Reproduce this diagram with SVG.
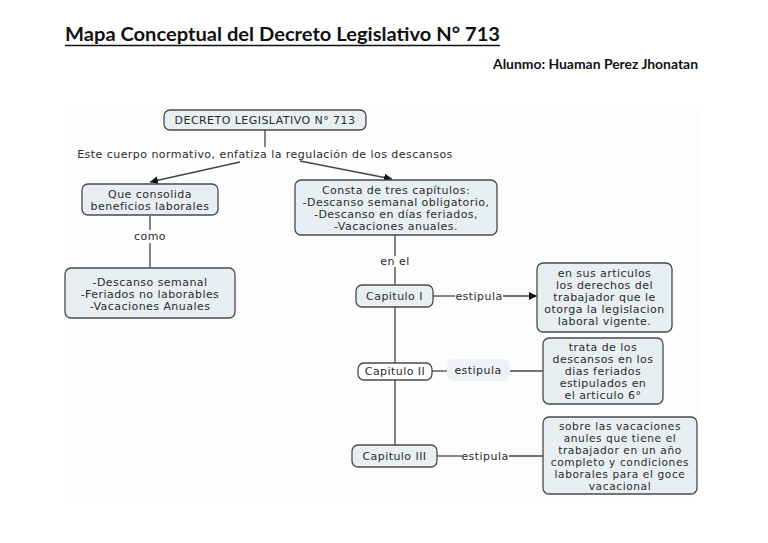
<svg xmlns="http://www.w3.org/2000/svg" width="768" height="543" viewBox="0 0 768 543">
<defs>
<style>
.t{font-family:'DejaVu Sans',Verdana,sans-serif;font-size:11px;letter-spacing:0.45px;fill:#2b2b2b;text-anchor:middle}
.s{font-size:10.6px;letter-spacing:0.6px}
.box{fill:#e8eff2;stroke:#4a4a4a;stroke-width:1.3}
.wbox{fill:#ffffff;stroke:#4a4a4a;stroke-width:1.3}
.ln{stroke:#444;stroke-width:1.3;fill:none}
.hd{font-family:Lato,'Liberation Sans',sans-serif;font-weight:bold;fill:#111}
</style>
<marker id="ah" viewBox="0 0 10 10" refX="10" refY="5" markerWidth="8" markerHeight="8" markerUnits="userSpaceOnUse" orient="auto">
<path d="M0,0 L10,5 L0,10 z" fill="#111"/>
</marker>
</defs>
<rect width="768" height="543" fill="#ffffff"/>
<rect x="65" y="107" width="635" height="390" fill="#fdfdfd"/>
<g id="title">
<text class="hd" x="65" y="41" font-size="18" textLength="435" lengthAdjust="spacingAndGlyphs">Mapa Conceptual del Decreto Legislativo N° 713</text>
<line x1="65" y1="45.5" x2="500" y2="45.5" stroke="#111" stroke-width="1.3"/>
<text class="hd" x="493" y="69" font-size="12.5" textLength="205" lengthAdjust="spacingAndGlyphs">Alunmo: Huaman Perez Jhonatan</text>
</g>
<g id="connectors">
<line class="ln" x1="265" y1="130" x2="265" y2="147"/>
<line class="ln" x1="240" y1="162" x2="150" y2="182" marker-end="url(#ah)"/>
<line class="ln" x1="300" y1="161" x2="392" y2="179" marker-end="url(#ah)"/>
<line class="ln" x1="150" y1="216" x2="150" y2="230"/>
<line class="ln" x1="150" y1="243" x2="150" y2="268"/>
<line class="ln" x1="395" y1="235" x2="395" y2="256"/>
<line class="ln" x1="395" y1="267" x2="395" y2="284"/>
<line class="ln" x1="433" y1="296" x2="455" y2="296"/>
<line class="ln" x1="503" y1="296" x2="537" y2="296" marker-end="url(#ah)"/>
<line class="ln" x1="395" y1="307" x2="395" y2="363"/>
<line class="ln" x1="432" y1="371" x2="447" y2="371"/>
<line class="ln" x1="510" y1="371" x2="543" y2="371"/>
<line class="ln" x1="395" y1="380" x2="395" y2="445"/>
<line class="ln" x1="437" y1="456" x2="462" y2="456"/>
<line class="ln" x1="509" y1="456" x2="543" y2="456"/>
<text class="t" x="265" y="158">Este cuerpo normativo, enfatiza la regulación de los descansos</text>
<text class="t" x="150" y="240">como</text>
<text class="t" x="395" y="265">en el</text>
<text class="t" x="479" y="300">estipula</text>
<rect x="447" y="359" width="63" height="22" rx="6" fill="#edf2f4"/>
<text class="t" x="478" y="374">estipula</text>
<text class="t" x="485" y="460">estipula</text>
</g>
<g id="n-decreto">
<rect class="box" x="164" y="110" width="202" height="20" rx="6"/>
<text class="t" x="265" y="124">DECRETO LEGISLATIVO N° 713</text>
</g>
<g id="n-consolida">
<rect class="box" x="82" y="184" width="136" height="31" rx="6"/>
<text class="t" x="150" y="198">Que consolida</text>
<text class="t" x="150" y="210">beneficios laborales</text>
</g>
<g id="n-lista">
<rect class="box" x="65" y="268" width="170" height="50" rx="6"/>
<text class="t" x="150" y="286">-Descanso semanal</text>
<text class="t" x="150" y="298">-Feriados no laborables</text>
<text class="t" x="150" y="310">-Vacaciones Anuales</text>
</g>
<g id="n-consta">
<rect class="box" x="295" y="180" width="202" height="55" rx="6"/>
<text class="t" x="396" y="194">Consta de tres capítulos:</text>
<text class="t" x="396" y="206">-Descanso semanal obligatorio,</text>
<text class="t" x="396" y="218">-Descanso en días feriados,</text>
<text class="t" x="396" y="230">-Vacaciones anuales.</text>
</g>
<g id="n-cap1">
<rect class="box" x="356" y="285" width="77" height="22" rx="6"/>
<text class="t" x="394.5" y="300">Capitulo I</text>
</g>
<g id="n-cap2">
<rect class="wbox" x="358" y="363" width="74" height="17" rx="6"/>
<text class="t" x="395" y="375">Capitulo II</text>
</g>
<g id="n-cap3">
<rect class="box" x="352" y="445" width="85" height="22" rx="6"/>
<text class="t" x="394.5" y="460">Capitulo III</text>
</g>
<g id="n-art1">
<rect class="box" x="537" y="263" width="135" height="69" rx="6"/>
<text class="t" x="604.5" y="277">en sus articulos</text>
<text class="t" x="604.5" y="289">los derechos del</text>
<text class="t" x="604.5" y="301">trabajador que le</text>
<text class="t" x="604.5" y="313">otorga la legislacion</text>
<text class="t" x="604.5" y="325">laboral vigente.</text>
</g>
<g id="n-art2">
<rect class="box" x="543" y="338" width="120" height="66" rx="6"/>
<text class="t" x="603" y="351">trata de los</text>
<text class="t" x="603" y="363">descansos en los</text>
<text class="t" x="603" y="375">dias feriados</text>
<text class="t" x="603" y="387">estipulados en</text>
<text class="t" x="603" y="399">el articulo 6°</text>
</g>
<g id="n-art3">
<rect class="box" x="543" y="417" width="154" height="77" rx="6"/>
<text class="t s" x="620" y="430">sobre las vacaciones</text>
<text class="t s" x="620" y="442">anules que tiene el</text>
<text class="t s" x="620" y="454">trabajador en un año</text>
<text class="t s" x="620" y="466">completo y condiciones</text>
<text class="t s" x="620" y="478">laborales para el goce</text>
<text class="t s" x="620" y="490">vacacional</text>
</g>
</svg>
